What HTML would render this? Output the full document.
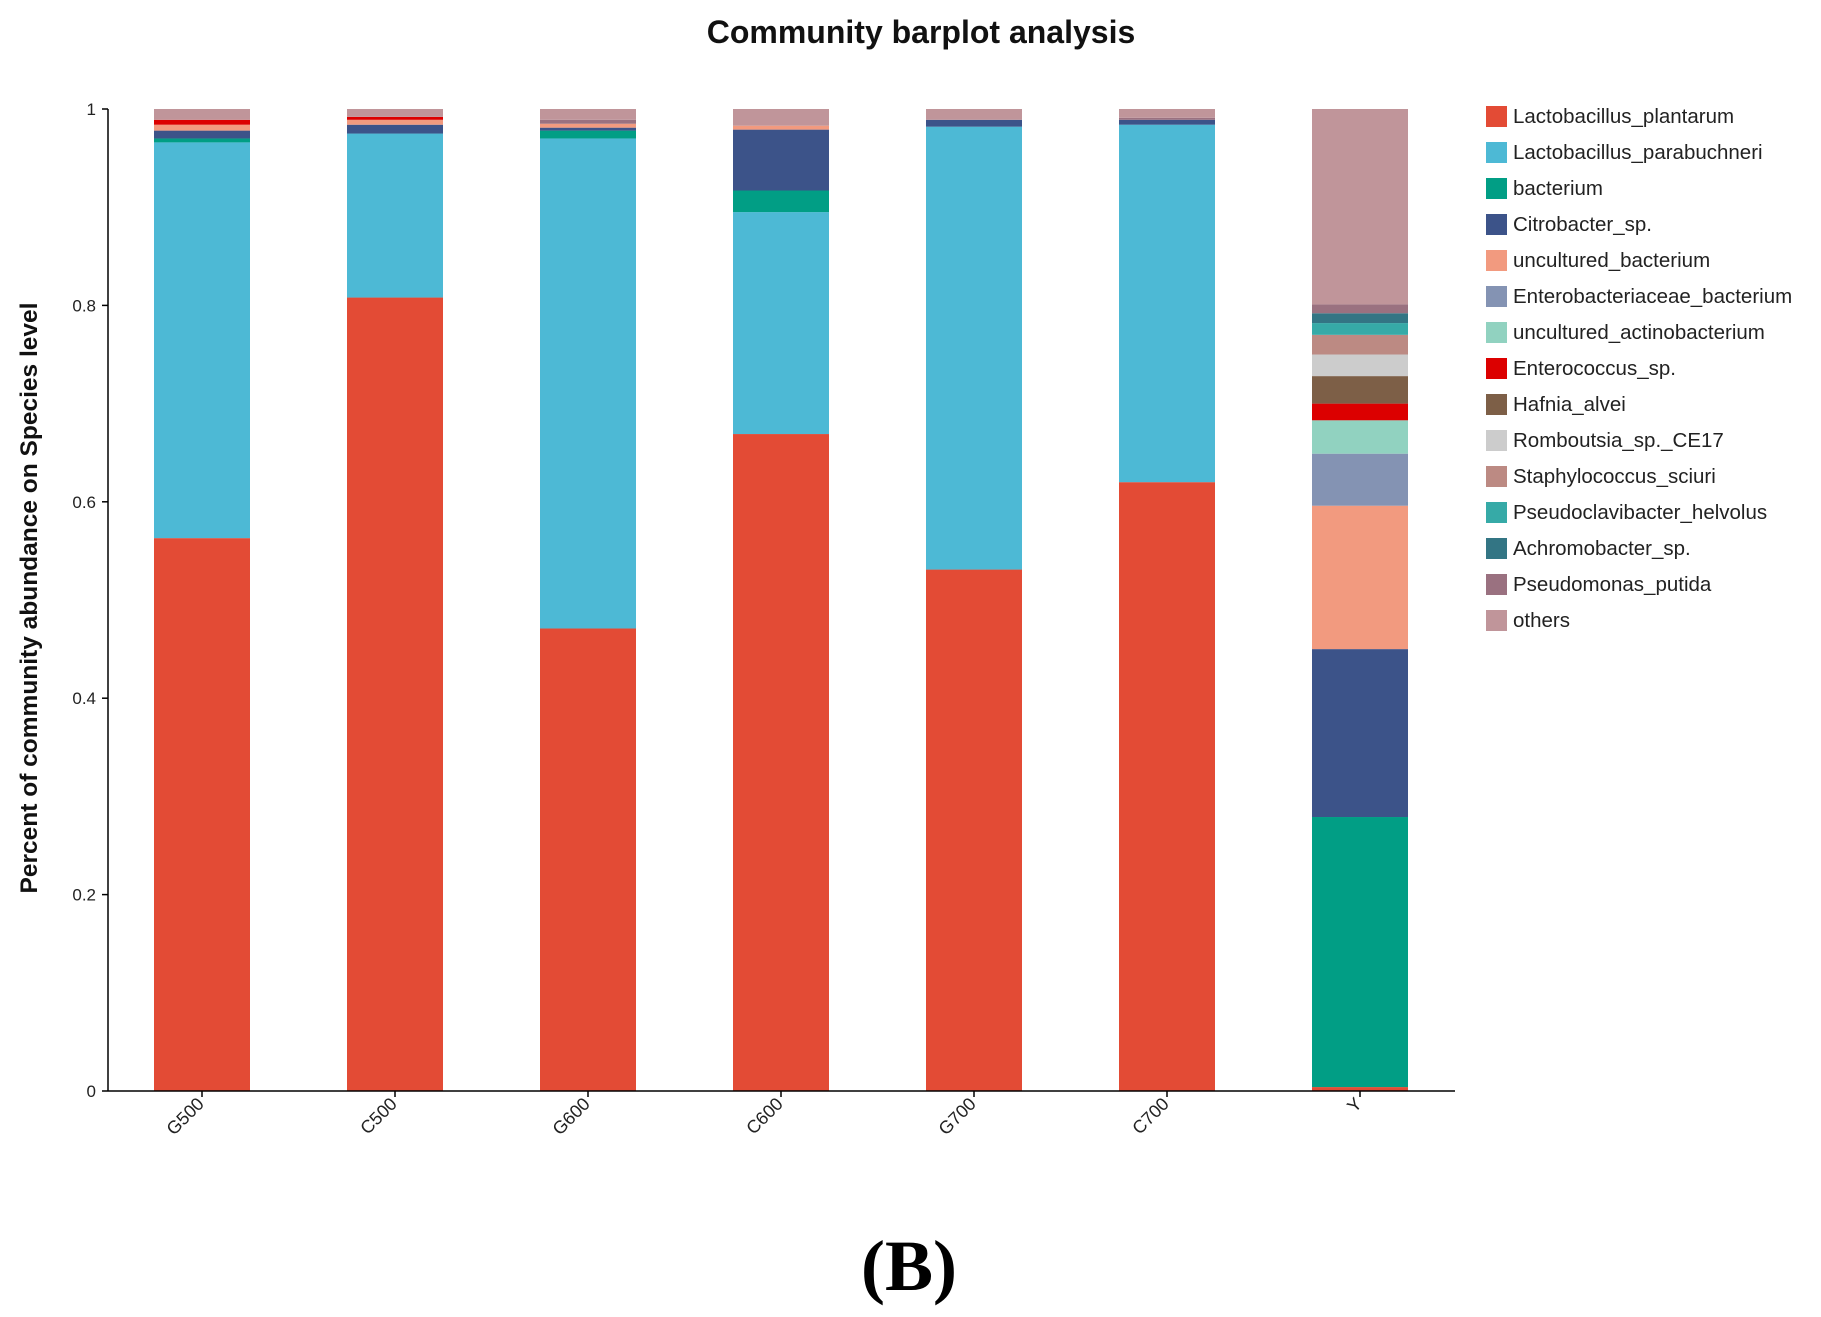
<!DOCTYPE html>
<html><head><meta charset="utf-8"><style>
body{margin:0;background:#fff;font-family:"Liberation Sans",sans-serif}
svg text{font-family:"Liberation Sans",sans-serif}
</style></head><body>
<svg id="chart" width="1821" height="1312" xmlns="http://www.w3.org/2000/svg">
<text x="921" y="43" text-anchor="middle" font-size="32" font-weight="bold" fill="#111">Community barplot analysis</text>
<text transform="translate(37,598) rotate(-90)" text-anchor="middle" font-size="24.5" font-weight="bold" fill="#111">Percent of community abundance on Species level</text>
<g id="plot"></g>
<g id="legend"></g>
<text x="909" y="1290" text-anchor="middle" font-size="72" font-weight="bold" font-family="Liberation Serif" style="font-family:'Liberation Serif',serif" fill="#000">(B)</text>
</svg>
<script>
const categories=["G500","C500","G600","C600","G700","C700","Y"];
const species=["Lactobacillus_plantarum","Lactobacillus_parabuchneri","bacterium","Citrobacter_sp.","uncultured_bacterium","Enterobacteriaceae_bacterium","uncultured_actinobacterium","Enterococcus_sp.","Hafnia_alvei","Romboutsia_sp._CE17","Staphylococcus_sciuri","Pseudoclavibacter_helvolus","Achromobacter_sp.","Pseudomonas_putida","others"];
const colors=["#e34b35","#4db9d5","#019e85","#3c5389","#f29a7f","#8493b3","#91d2c0","#dc0000","#7d5f47","#cccccc","#bc8a83","#36aaa7","#337584","#9a7180","#c0959a"];
const lPlantarum=[0.563,0.808,0.471,0.669,0.531,0.620,0.004];
const lParabuchneri=[0.403,0.167,0.499,0.226,0.451,0.364,0.000];
const bacterium=[0.004,0.000,0.008,0.022,0.000,0.000,0.275];
const citrobacter=[0.008,0.009,0.003,0.062,0.007,0.005,0.171];
const unculturedBact=[0.006,0.005,0.004,0.004,0.000,0.000,0.146];
const enterobact=[0.000,0.000,0.000,0.000,0.000,0.000,0.053];
const unculturedActino=[0.000,0.000,0.000,0.000,0.000,0.000,0.034];
const enterococcus=[0.005,0.003,0.000,0.000,0.000,0.000,0.017];
const hafnia=[0.000,0.000,0.000,0.000,0.000,0.000,0.028];
const romboutsia=[0.000,0.000,0.000,0.000,0.000,0.000,0.022];
const staph=[0.000,0.000,0.000,0.000,0.000,0.000,0.020];
const pseudoclav=[0.000,0.000,0.000,0.000,0.000,0.000,0.012];
const achromo=[0.000,0.000,0.000,0.000,0.000,0.000,0.010];
const pseudomonas=[0.000,0.000,0.004,0.000,0.000,0.002,0.009];
const others=[0.011,0.008,0.011,0.017,0.011,0.009,0.199];
const yTicks=["0","0.2","0.4","0.6","0.8","1"];
const tickValues=[0,0.2,0.4,0.6,0.8,1];
const series=[lPlantarum,lParabuchneri,bacterium,citrobacter,unculturedBact,enterobact,unculturedActino,enterococcus,hafnia,romboutsia,staph,pseudoclav,achromo,pseudomonas,others];

const NS="http://www.w3.org/2000/svg";
const x0=108,x1=1455,y0=1091,y1=109,step=193,bw=96,firstX=154;
const yS=v=>y0-(y0-y1)*v;
const xS=i=>firstX+i*step;
const plot=document.getElementById('plot');
function mk(tag,attrs,parent){const e=document.createElementNS(NS,tag);for(const k in attrs)e.setAttribute(k,attrs[k]);parent.appendChild(e);return e;}
categories.forEach((c,i)=>{
  let acc=0;
  series.forEach((s,j)=>{
    const v=s[i]; if(v<=0){return;}
    const r=mk('rect',{x:xS(i),y:yS(acc+v),width:bw,height:yS(acc)-yS(acc+v),fill:colors[j]},plot);
    
    
    acc+=v;
  });
  const tx=xS(i)+bw/2;
  const t=mk('line',{x1:tx,y1:y0,x2:tx,y2:y0+6,stroke:'#000','stroke-width':1.5},plot);
  
  
  const lb=mk('text',{transform:`translate(${tx+3},${y0+14}) rotate(-45)`,'text-anchor':'end','font-size':18,fill:'#222'},plot);
  lb.textContent=c;
  
  
});
const ax=mk('line',{x1:x0,y1:y0,x2:x1,y2:y0,stroke:'#000','stroke-width':1.5},plot);


const ay=mk('line',{x1:x0,y1:y0,x2:x0,y2:y1,stroke:'#000','stroke-width':1.5},plot);


tickValues.forEach((v,k)=>{
  const l=mk('line',{x1:x0-6,y1:yS(v),x2:x0,y2:yS(v),stroke:'#000','stroke-width':1.5},plot);
  
  
  const t=mk('text',{x:x0-12,y:yS(v)+6,'text-anchor':'end','font-size':17,fill:'#222'},plot);
  t.textContent=yTicks[k];
  
  
});
const lg=document.getElementById('legend');
species.forEach((s,j)=>{
  const y=106+j*36;
  const g=mk('g',{},lg);
  
  
  mk('rect',{x:1486,y:y,width:21,height:21,fill:colors[j]},g);
  const t=mk('text',{x:1513,y:y+17,'font-size':20.5,fill:'#222'},g);
  t.textContent=s;
});
</script>
</body></html>
